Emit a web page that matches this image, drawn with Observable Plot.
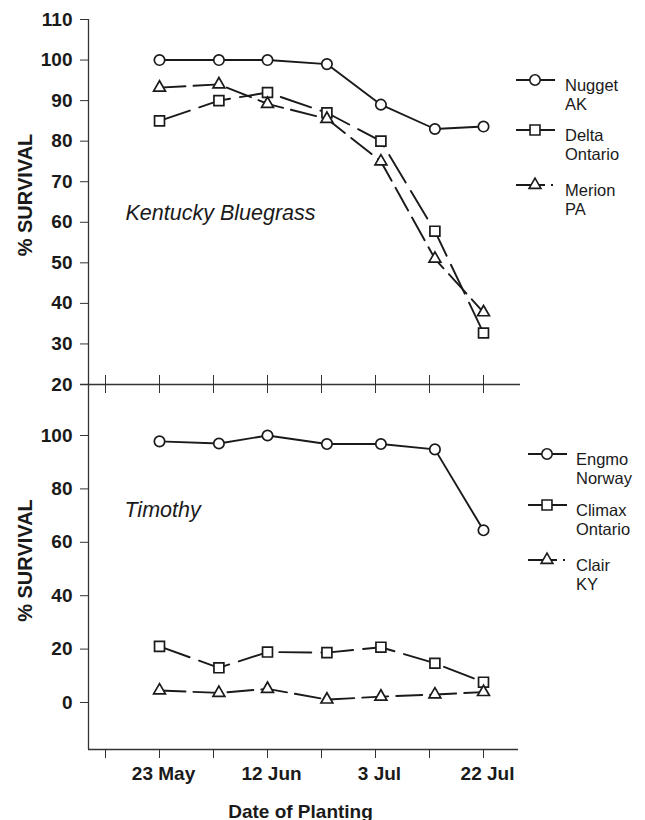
<!DOCTYPE html>
<html><head><meta charset="utf-8">
<script src="https://cdn.jsdelivr.net/npm/d3@7"></script>
<script src="https://cdn.jsdelivr.net/npm/@observablehq/plot@0.6"></script>
<style>
html,body{margin:0;padding:0;background:#fff;}
#chart{position:relative;width:645px;height:820px;font-family:"Liberation Sans",Arial,sans-serif;color:#1a1a1a;background:#fff;}
#chart svg{position:absolute;left:0;}
</style></head><body><div id="chart"></div>
<script>
// ---- data ----
const plantingX = [1, 2.1, 3, 4.1, 5.1, 6.1, 7];          // planting dates on the date axis
const dateTickPositions = [0, 1, 2, 3, 4, 5, 6, 7];
const dateLabelPositions = [1, 3, 5, 7];
const dateLabels = ["23 May", "12 Jun", "3 Jul", "22 Jul"];

const nuggetAK      = [100, 100, 100, 99, 89, 83, 83.6];
const deltaOntario  = [85, 90, 92, 87, 80, 57.8, 32.7];
const merionPA      = [93.2, 94, 89.2, 85.5, 75, 51, 37.8];

const engmoNorway   = [97.8, 97, 100, 96.8, 96.8, 94.8, 64.5];
const climaxOntario = [21, 13, 18.9, 18.7, 20.7, 14.7, 7.6];
const clairKY       = [4.5, 3.6, 5.1, 1.1, 2.2, 3, 3.9];

const topTicks = [20, 30, 40, 50, 60, 70, 80, 90, 100, 110];
const bottomTicks = [0, 20, 40, 60, 80, 100];

const topLegend = [["Nugget", "AK"], ["Delta", "Ontario"], ["Merion", "PA"]];
const bottomLegend = [["Engmo", "Norway"], ["Climax", "Ontario"], ["Clair", "KY"]];

// ---- styles ----
const INK = "#1a1a1a";
const FONT = "Liberation Sans, Arial, sans-serif";
const styles = [
  {symbol: "circle", r: 5.2, dash: null},
  {symbol: "square", r: 5.6, dash: "32,10"},
  {symbol: "triangle", r: 4.4, dash: "26,8"}
];
const X_DOMAIN = [-0.315, 7.685];

function series(values) { return values.map((v, i) => ({x: plantingX[i], y: v})); }

function dataMarks(list) {
  const marks = [];
  list.forEach((vals, k) => {
    const d = series(vals), s = styles[k];
    marks.push(Plot.line(d, {x: "x", y: "y", stroke: INK, strokeWidth: 1.9, strokeDasharray: s.dash}));
  });
  list.forEach((vals, k) => {
    const d = series(vals), s = styles[k];
    marks.push(Plot.dot(d, {x: "x", y: "y", symbol: s.symbol, r: s.r, fill: "white", stroke: INK, strokeWidth: 1.7}));
  });
  return marks;
}

const chart = document.getElementById("chart");
const baseStyle = {fontFamily: FONT, background: "transparent", overflow: "visible", color: INK};

// ---- top panel: Kentucky Bluegrass ----
const topPlot = Plot.plot({
  width: 645, height: 400,
  marginTop: 19, marginBottom: 16, marginLeft: 88, marginRight: 125,
  style: baseStyle,
  x: {domain: X_DOMAIN, axis: null},
  y: {domain: [20, 110], axis: null},
  marks: [
    Plot.ruleX([X_DOMAIN[0]], {stroke: "#333", strokeWidth: 1.3}),
    Plot.ruleY([20], {x1: -0.463, x2: X_DOMAIN[1], stroke: "#333", strokeWidth: 1.3}),
    Plot.axisY({ticks: topTicks, tickSize: 8, tickPadding: 8, fontSize: 19, fontWeight: "bold", label: null, stroke: "#333"}),
    Plot.axisX({ticks: dateTickPositions, tickSize: 18, dy: -9, tickFormat: () => "", label: null, stroke: "#333"}),
    ...dataMarks([nuggetAK, deltaOntario, merionPA]),
    Plot.text(["Kentucky Bluegrass"], {x: 0.37, y: 62.2, text: d => d, textAnchor: "start", fontStyle: "italic", fontSize: 21.5, fill: INK}),
    Plot.text(["% SURVIVAL"], {frameAnchor: "left", text: d => d, textAnchor: "middle", rotate: -90, dx: -63, dy: -7, fontWeight: "bold", fontSize: 20, fill: INK})
  ]
});
topPlot.style.top = "0px";
chart.appendChild(topPlot);

// ---- bottom panel: Timothy ----
const bottomPlot = Plot.plot({
  width: 645, height: 436,
  marginTop: 0, marginBottom: 71, marginLeft: 88, marginRight: 125,
  style: baseStyle,
  x: {domain: X_DOMAIN, axis: null},
  y: {domain: [-17.6, 119.1], axis: null},
  marks: [
    Plot.ruleX([X_DOMAIN[0]], {stroke: "#333", strokeWidth: 1.3}),
    Plot.ruleY([-17.6], {x1: X_DOMAIN[0], x2: 7.65, stroke: "#333", strokeWidth: 1.3}),
    Plot.axisY({ticks: bottomTicks, tickSize: 8, tickPadding: 8, fontSize: 19, fontWeight: "bold", label: null, stroke: "#333"}),
    Plot.axisX({ticks: dateTickPositions, tickSize: 9, tickFormat: () => "", label: null, stroke: "#333"}),
    Plot.axisX({ticks: dateLabelPositions, tickSize: 0, tickPadding: 17, dx: 4, tickFormat: d => dateLabels[dateLabelPositions.indexOf(d)], fontSize: 19, fontWeight: "bold", label: null}),
    ...dataMarks([engmoNorway, climaxOntario, clairKY]),
    Plot.text(["Timothy"], {x: 0.35, y: 71.9, text: d => d, textAnchor: "start", fontStyle: "italic", fontSize: 21.5, fill: INK}),
    Plot.text(["% SURVIVAL"], {frameAnchor: "left", text: d => d, textAnchor: "middle", rotate: -90, dx: -63, dy: -6.5, fontWeight: "bold", fontSize: 20, fill: INK}),
    Plot.text(["Date of Planting"], {frameAnchor: "bottom", text: d => d, lineAnchor: "top", dy: 54.5, dx: -4, fontWeight: "bold", fontSize: 19, fill: INK})
  ]
});
bottomPlot.style.top = "384px";
chart.appendChild(bottomPlot);

// ---- legends ----
const legendSvg = d3.select(chart).append("svg")
  .attr("width", 645).attr("height", 820)
  .style("top", "0px").style("pointer-events", "none");

function drawLegend(entries, x0, x1, xm, xt, rowYs) {
  const symMap = {circle: d3.symbolCircle, square: d3.symbolSquare, triangle: d3.symbolTriangle};
  entries.forEach((lines, k) => {
    const y = rowYs[k], s = styles[k];
    const g = legendSvg.append("g");
    g.append("line").attr("x1", x0).attr("x2", x1).attr("y1", y).attr("y2", y)
      .attr("stroke", INK).attr("stroke-width", 1.8)
      .attr("stroke-dasharray", k === 2 ? "29,6,2,40" : null);
    g.append("path").attr("d", d3.symbol(symMap[s.symbol], Math.PI * s.r * s.r)())
      .attr("transform", `translate(${xm},${y})`)
      .attr("fill", "white").attr("stroke", INK).attr("stroke-width", 1.6);
    lines.forEach((t, j) => {
      g.append("text").attr("x", xt).attr("y", y + 11 + j * 18.5)
        .attr("font-family", FONT).attr("font-size", 16.5).attr("fill", INK).text(t);
    });
  });
}
drawLegend(topLegend, 516, 555, 535, 565, [80, 130, 185]);
drawLegend(bottomLegend, 528, 567, 547, 576, [454, 505, 560]);
</script></body></html>
